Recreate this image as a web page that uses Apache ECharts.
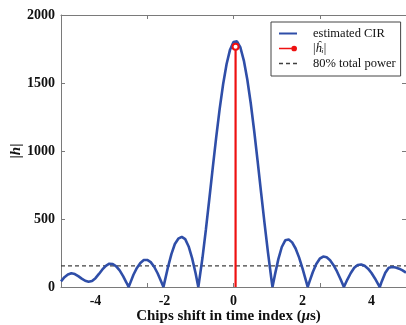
<!DOCTYPE html>
<html>
<head>
<meta charset="utf-8">
<script src="https://cdn.jsdelivr.net/npm/echarts@6/dist/echarts.min.js"></script>
<style>
  html, body { margin: 0; padding: 0; background: #ffffff; }
  #chart { width: 406px; height: 325px; }
</style>
</head>
<body>
<div id="chart"></div>
<script>
// Chip shift (µs) and magnitude of the estimated channel impulse response
const chipShift = [
  -5.0, -4.9, -4.8, -4.7, -4.6, -4.5, -4.4, -4.3, -4.2, -4.1,
  -4.0, -3.9, -3.8, -3.7, -3.6, -3.5, -3.4, -3.3, -3.2, -3.1, -3.04,
  -3.0, -2.9, -2.8, -2.7, -2.6, -2.5, -2.4, -2.3, -2.2, -2.1, -2.03,
  -2.0, -1.9, -1.8, -1.7, -1.6, -1.5, -1.4, -1.3, -1.2, -1.1, -1.02,
  -1.0, -0.9, -0.8, -0.7, -0.6, -0.5, -0.4, -0.3, -0.2, -0.1,
  0.0, 0.05, 0.1, 0.2, 0.3, 0.4, 0.5, 0.6, 0.7, 0.8, 0.9, 1.0, 1.1, 1.13,
  1.2, 1.3, 1.4, 1.5, 1.6, 1.7, 1.8, 1.9, 2.0, 2.1, 2.15,
  2.2, 2.3, 2.4, 2.5, 2.6, 2.7, 2.8, 2.9, 3.0, 3.1, 3.2,
  3.3, 3.4, 3.5, 3.6, 3.7, 3.8, 3.9, 4.0, 4.1, 4.2, 4.24,
  4.3, 4.4, 4.5, 4.6, 4.7, 4.8, 4.9, 5.0
];
const cirMagnitude = [
  42, 72, 92, 101, 95, 80, 62, 46, 39, 44,
  65, 96, 129, 156, 171, 169, 152, 122, 80, 31, 0,
  25, 90, 140, 177, 198, 199, 183, 149, 101, 43, 0,
  34, 145, 242, 316, 355, 369, 352, 298, 212, 103, 0,
  34, 213, 423, 649, 879, 1104, 1312, 1493, 1640, 1745,
  1801, 1810, 1806, 1761, 1665, 1526, 1351, 1147, 924, 694, 468, 253, 55, 0,
  89, 205, 294, 343, 350, 328, 283, 218, 137, 47, 0,
  38, 110, 169, 208, 224, 218, 196, 160, 114, 59, 0,
  55, 103, 141, 162, 166, 156, 135, 103, 63, 18, 0,
  43, 105, 142, 147, 143, 135, 122, 106
];

// Detected tap |h_i| (position, magnitude)
const tapShift = 0.06;
const tapMagnitude = 1766;

// 80% total power threshold
const powerThreshold = 155;

// Axis tick labels and tick marks
const xTickLabels = [-4, -2, 0, 2, 4];
const xTickMarks = [-5, -2.5, 0, 2.5, 5];
const yTickLabels = [0, 500, 1000, 1500, 2000];

const names = ['estimated CIR', '|ĥᵢ|', '80% total power'];

const serif = '"Liberation Serif", "DejaVu Serif", serif';
const axisGray = '#7a7a7a';
const textBlack = '#111111';
const blue = '#2f4ea8';
const red = '#ee1111';
const dashGray = '#404040';

const chart = echarts.init(document.getElementById('chart'), null, { renderer: 'canvas' });

const curveData = chipShift.map((x, i) => [x, cirMagnitude[i]]);

// legend glyph for the stem: a short line ending in a dot
const stemIcon = 'path://M0,2.2L13,2.2L13,3.8L0,3.8Z M13,3 A3,3 0 1,0 19,3 A3,3 0 1,0 13,3Z';

chart.setOption({
  backgroundColor: '#ffffff',
  animation: false,
  grid: {
    left: 61, right: 0, top: 15, bottom: 38,
    containLabel: false,
    outerBoundsMode: 'none'
  },
  legend: {
    orient: 'vertical',
    left: 271, top: 22,
    padding: [4, 5, 5, 7],
    itemGap: 0,
    itemWidth: 18,
    itemHeight: 12,
    borderColor: '#444444',
    borderWidth: 1,
    borderRadius: 0,
    backgroundColor: '#ffffff',
    data: [
      { name: names[0], itemStyle: { opacity: 0 }, lineStyle: { color: blue, width: 2 } },
      { name: names[1], icon: stemIcon, itemStyle: { color: red, borderWidth: 0 } },
      { name: names[2], itemStyle: { opacity: 0 }, lineStyle: { color: dashGray, width: 1.3, type: [4, 3] } }
    ],
    formatter: function (n) {
      return n === names[1] ? '{n||}{i|ĥᵢ}{n||}' : n;
    },
    textStyle: {
      fontFamily: serif, fontSize: 12.5, color: textBlack, lineHeight: 15,
      padding: [0, 0, 0, 11],
      rich: {
        n: { fontFamily: serif, fontSize: 12.5, color: textBlack },
        i: { fontFamily: serif, fontSize: 12.5, fontStyle: 'italic', color: textBlack }
      }
    }
  },
  xAxis: [
    {
      type: 'value', min: -5, max: 5, position: 'bottom',
      name: 'Chips shift in time index ({m|μ}s)',
      nameLocation: 'middle', nameGap: 22,
      nameMoveOverlap: false,
      nameTextStyle: {
        fontFamily: serif, fontSize: 15, fontWeight: 'bold', color: textBlack,
        padding: [0, 10, 0, 0],
        rich: { m: { fontFamily: serif, fontSize: 15, fontWeight: 'bold', fontStyle: 'italic', color: textBlack } }
      },
      axisLine: { show: true, onZero: false, lineStyle: { color: axisGray, width: 1 } },
      axisTick: { show: true, inside: true, length: 4, customValues: xTickMarks, lineStyle: { color: axisGray } },
      axisLabel: {
        customValues: xTickLabels, margin: 7,
        fontFamily: serif, fontSize: 14, fontWeight: 'bold', color: textBlack,
        formatter: v => String(v)
      },
      splitLine: { show: false }
    },
    {
      type: 'value', min: -5, max: 5, position: 'top',
      axisLine: { show: true, onZero: false, lineStyle: { color: axisGray, width: 1 } },
      axisTick: { show: true, inside: true, length: 4, customValues: xTickMarks, lineStyle: { color: axisGray } },
      axisLabel: { show: false },
      splitLine: { show: false }
    }
  ],
  yAxis: [
    {
      type: 'value', min: 0, max: 2000, interval: 500, position: 'left',
      name: '{b||}{h|h}{b||}',
      nameLocation: 'middle', nameGap: 37, nameRotate: 90,
      nameMoveOverlap: false,
      nameTextStyle: {
        rich: {
          b: { fontFamily: serif, fontSize: 15, fontWeight: 'bold', color: textBlack },
          h: { fontFamily: serif, fontSize: 15, fontWeight: 'bold', fontStyle: 'italic', color: textBlack }
        }
      },
      axisLine: { show: true, onZero: false, lineStyle: { color: axisGray, width: 1 } },
      axisTick: { show: true, inside: true, length: 4, lineStyle: { color: axisGray } },
      axisLabel: {
        margin: 6, fontFamily: serif, fontSize: 14, fontWeight: 'bold', color: textBlack,
        customValues: yTickLabels,
        formatter: v => String(v)
      },
      splitLine: { show: false }
    },
    {
      type: 'value', min: 0, max: 2000, interval: 500, position: 'right',
      axisLine: { show: true, onZero: false, lineStyle: { color: axisGray, width: 1 } },
      axisTick: { show: true, inside: true, length: 4, lineStyle: { color: axisGray } },
      axisLabel: { show: false },
      splitLine: { show: false }
    }
  ],
  series: [
    {
      name: names[0],
      type: 'line',
      data: curveData,
      symbol: 'none',
      smooth: false,
      lineStyle: { color: blue, width: 2.6 },
      itemStyle: { color: blue },
      z: 3
    },
    {
      name: names[1],
      type: 'line',
      data: [
        { value: [tapShift, 0], symbol: 'none' },
        { value: [tapShift, tapMagnitude] }
      ],
      symbol: 'emptyCircle',
      symbolSize: 6,
      showSymbol: true,
      lineStyle: { color: red, width: 2.2 },
      itemStyle: { color: red, borderColor: red, borderWidth: 2 },
      z: 4
    },
    {
      name: names[2],
      type: 'line',
      data: [[-5, powerThreshold], [5, powerThreshold]],
      symbol: 'none',
      lineStyle: { color: dashGray, width: 1.3, type: [4, 3] },
      itemStyle: { color: dashGray },
      z: 2
    }
  ]
});
</script>
</body>
</html>
